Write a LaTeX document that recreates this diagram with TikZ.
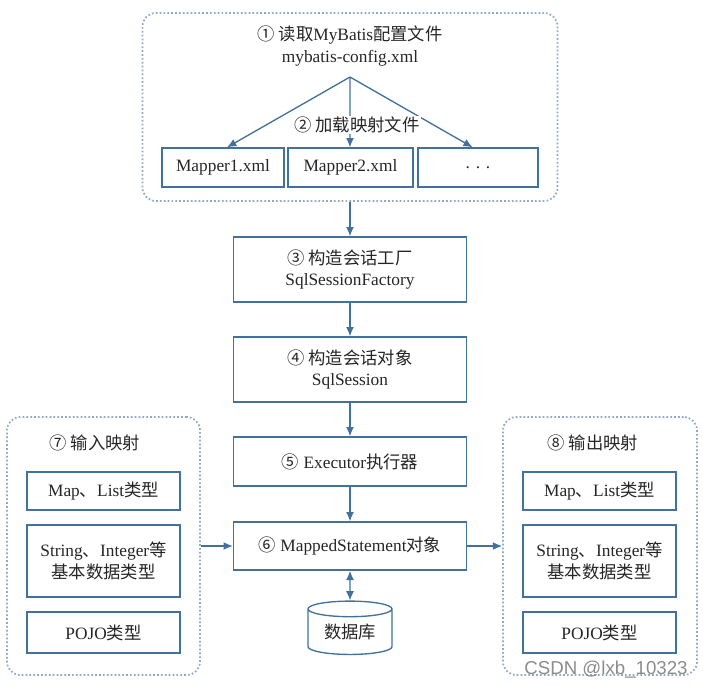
\documentclass[tikz,border=0pt]{standalone}
\usepackage{fontspec}
\setmainfont{Liberation Serif}
\newfontfamily\cjk{Noto Sans CJK SC}
\newfontfamily\wmfont{Liberation Sans}
\usetikzlibrary{arrows.meta,shapes.geometric}
\definecolor{edgec}{HTML}{41719C}
\definecolor{grpc}{HTML}{8FA9C9}
\definecolor{txtc}{HTML}{262626}
\begin{document}
\begin{tikzpicture}[x=0.75pt,y=-0.75pt,
  box/.style={draw=edgec, line width=1pt, fill=white, text=txtc, font=\fontsize{13}{16}\selectfont, align=center, inner sep=0pt},
  grpbox/.style={draw=grpc, line width=1.3pt, dash pattern=on 1.3pt off 1.6pt, rounded corners=10pt, inner sep=0pt},
  conn/.style={draw=edgec, line width=1pt, -{Latex[length=7pt,width=6pt]}},
  dconn/.style={draw=edgec, line width=1pt, {Latex[length=7pt,width=6pt]}-{Latex[length=7pt,width=6pt]}},
  lbl/.style={text=txtc, font=\fontsize{13}{16}\selectfont, align=center, inner sep=0pt}]
\useasboundingbox (0,0) rectangle (703,690);

% groups
\node[grpbox, minimum width=311.25pt, minimum height=141pt] (tg) at (350,107) {};
\node[grpbox, minimum width=144.75pt, minimum height=193.5pt] (lg) at (103.5,546) {};
\node[grpbox, minimum width=145.5pt, minimum height=193.5pt] (rg) at (600,546) {};

% top group content
\node[lbl] (t1) at (350,46) {{\cjk ① 读取}MyBatis{\cjk 配置文件}\\mybatis-config.xml};
\coordinate (split) at (350,77);
\node[box, minimum width=91.5pt, minimum height=29.25pt] (m1) at (223,167.5) {Mapper1.xml};
\node[box, minimum width=93.75pt, minimum height=29.25pt] (m2) at (350.5,167.5) {Mapper2.xml};
\node[box, minimum width=90pt, minimum height=29.25pt] (m3) at (478,167.5) {. . .};
\draw[conn] (split) -- ([xshift=3pt]m1.north);
\draw[conn] (split) -- ([xshift=-0.4pt]m2.north);
\draw[conn] (split) -- ([xshift=-4pt]m3.north);
\node[lbl, fill=white, inner sep=1pt] (t2) at (357,125) {\cjk ② 加载映射文件};

% main chain
\node[box, minimum width=174.75pt, minimum height=48.75pt] (fac) at (350,269.5) {{\cjk ③ 构造会话工厂}\\SqlSessionFactory};
\node[box, minimum width=174.75pt, minimum height=48.75pt] (ses) at (350,369.5) {{\cjk ④ 构造会话对象}\\SqlSession};
\node[box, minimum width=174.75pt, minimum height=36.75pt] (exe) at (350,461.5) {{\cjk ⑤} Executor{\cjk 执行器}};
\node[box, minimum width=174.75pt, minimum height=36pt] (ms) at (350,546) {{\cjk ⑥} MappedStatement{\cjk 对象}};
\node[cylinder, shape border rotate=90, aspect=0.3, draw=edgec, line width=1pt, fill=white, text=txtc, font=\fontsize{13}{16}\selectfont, minimum width=63pt, minimum height=40pt, inner sep=0pt] (db) at (350,632) {\cjk 数据库};

\draw[conn] (tg.south) -- (fac.north);
\draw[conn] (fac.south) -- (ses.north);
\draw[conn] (ses.south) -- (exe.north);
\draw[conn] (exe.south) -- (ms.north);
\draw[dconn] (ms.south) -- (db.north);

% left group
\node[lbl] (lt) at (95,443) {\cjk ⑦ 输入映射};
\node[box, minimum width=114.75pt, minimum height=28.5pt] (lm) at (103.5,491) {Map{\cjk 、}List{\cjk 类型}};
\node[box, minimum width=114.75pt, minimum height=54pt] (ls) at (103.5,561) {String{\cjk 、}Integer{\cjk 等}\\{\cjk 基本数据类型}};
\node[box, minimum width=114.75pt, minimum height=30.75pt] (lp) at (103.5,632.5) {POJO{\cjk 类型}};

% right group
\node[lbl] (rt) at (593,443) {\cjk ⑧ 输出映射};
\node[box, minimum width=114.75pt, minimum height=28.5pt] (rm) at (599.5,491) {Map{\cjk 、}List{\cjk 类型}};
\node[box, minimum width=114.75pt, minimum height=54pt] (rs) at (599.5,561) {String{\cjk 、}Integer{\cjk 等}\\{\cjk 基本数据类型}};
\node[box, minimum width=114.75pt, minimum height=30.75pt] (rp) at (599.5,632.5) {POJO{\cjk 类型}};

\draw[conn] (lg.east) -- (ms.west);
\draw[conn] (ms.east) -- (rg.west);

% watermark
\node[text=black!45, font=\wmfont\fontsize{14}{16}\selectfont, inner sep=0pt] (wm) at (606,670) {CSDN @lxb\_10323};
\end{tikzpicture}
\end{document}
